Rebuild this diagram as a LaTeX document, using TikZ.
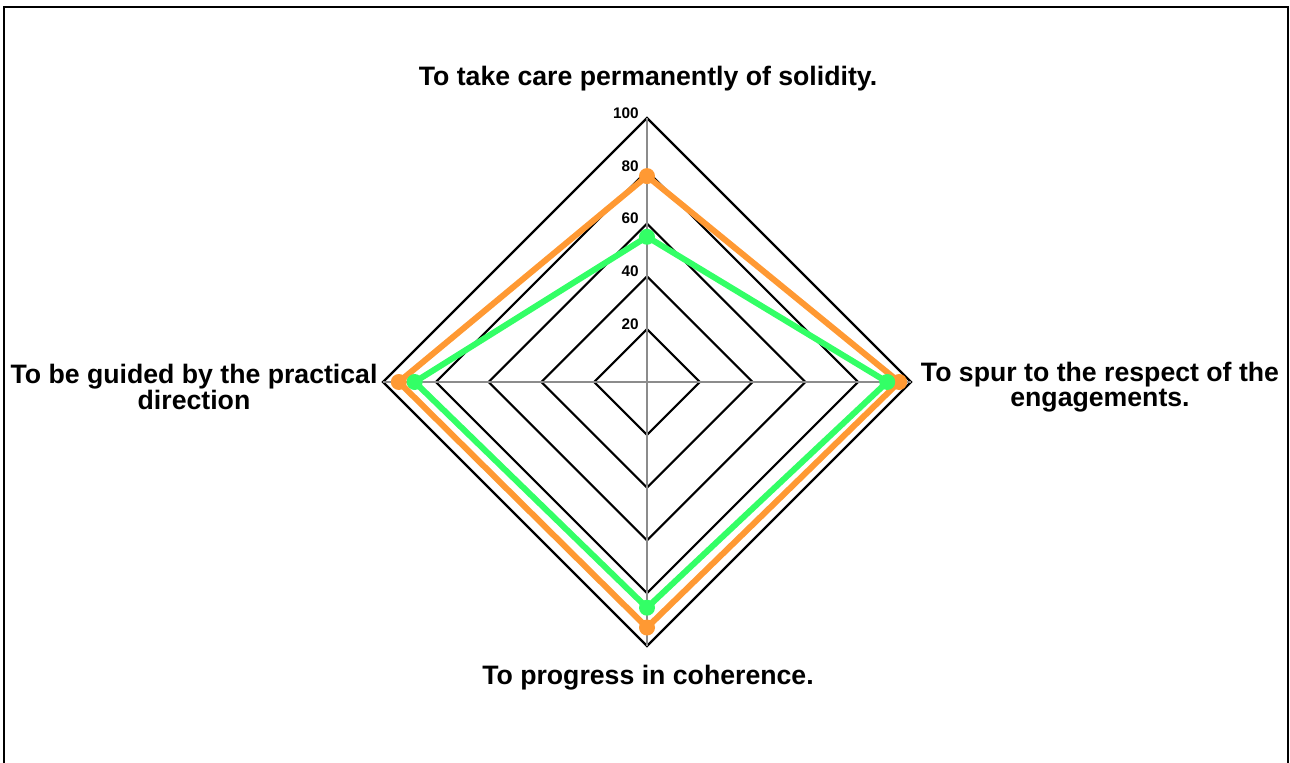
\documentclass[tikz,border=0pt]{standalone}
\usepackage{fontspec}
\setmainfont{Liberation Sans}
\begin{document}
\begin{tikzpicture}[x=0.75pt,y=-0.75pt,
  gridline/.style={black,line width=1.6pt},
  axisline/.style={black!45,line width=1.1pt},
  serieso/.style={color=orangec,line width=4.5pt,line join=round},
  seriesg/.style={color=greenc,line width=4.5pt,line join=round},
  ticklabel/.style={anchor=east,font=\bfseries\fontsize{11.5}{13}\selectfont,inner sep=0pt},
  axislabel/.style={font=\bfseries\fontsize{20}{19}\selectfont,align=center,inner sep=0pt}]
\definecolor{orangec}{RGB}{255,153,51}
\definecolor{greenc}{RGB}{51,255,102}
\useasboundingbox (0,0) rectangle (1290,763);
\draw[line width=2pt] (4,763) -- (4,7) -- (1288,7) -- (1288,763);
% grid
\foreach \l in {1,...,5}{
  \draw[gridline] (647,{382-52.8*\l}) -- ({647+52.8*\l},382) -- (647,{382+52.8*\l}) -- ({647-52.8*\l},382) -- cycle;
}
\draw[axisline] (647,118) -- (647,646);
\draw[axisline] (383,382) -- (911,382);
\foreach \l/\t in {1/20,2/40,3/60,4/80,5/100}{
  \node[ticklabel] (t\t) at (639,{382-52.8*\l-5}) {\t};
}
% series orange
\draw[serieso] (647,{382-0.78*264}) -- ({647+0.955*264},382) -- (647,{382+0.93*264}) -- ({647-0.94*264},382) -- cycle;
\foreach \p in {(647,{382-0.78*264}),({647+0.955*264},382),(647,{382+0.93*264}),({647-0.94*264},382)}
  \fill[orangec] \p circle[radius=6pt];
% series green
\draw[seriesg] (647,{382-0.55*264}) -- ({647+0.91*264},382) -- (647,{382+0.855*264}) -- ({647-0.88*264},382) -- cycle;
\foreach \p in {(647,{382-0.55*264}),({647+0.91*264},382),(647,{382+0.855*264}),({647-0.88*264},382)}
  \fill[greenc] \p circle[radius=6pt];
% labels
\node[axislabel] (ltop) at (648,79) {To take care permanently of solidity.};
\node[axislabel] (lright) at (1100,387) {To spur to the respect of the\\engagements.};
\node[axislabel] (lbottom) at (648,678) {To progress in coherence.};
\node[axislabel] (lleft) at (194,387) {To be guided by the practical\\direction};
\end{tikzpicture}
\end{document}
